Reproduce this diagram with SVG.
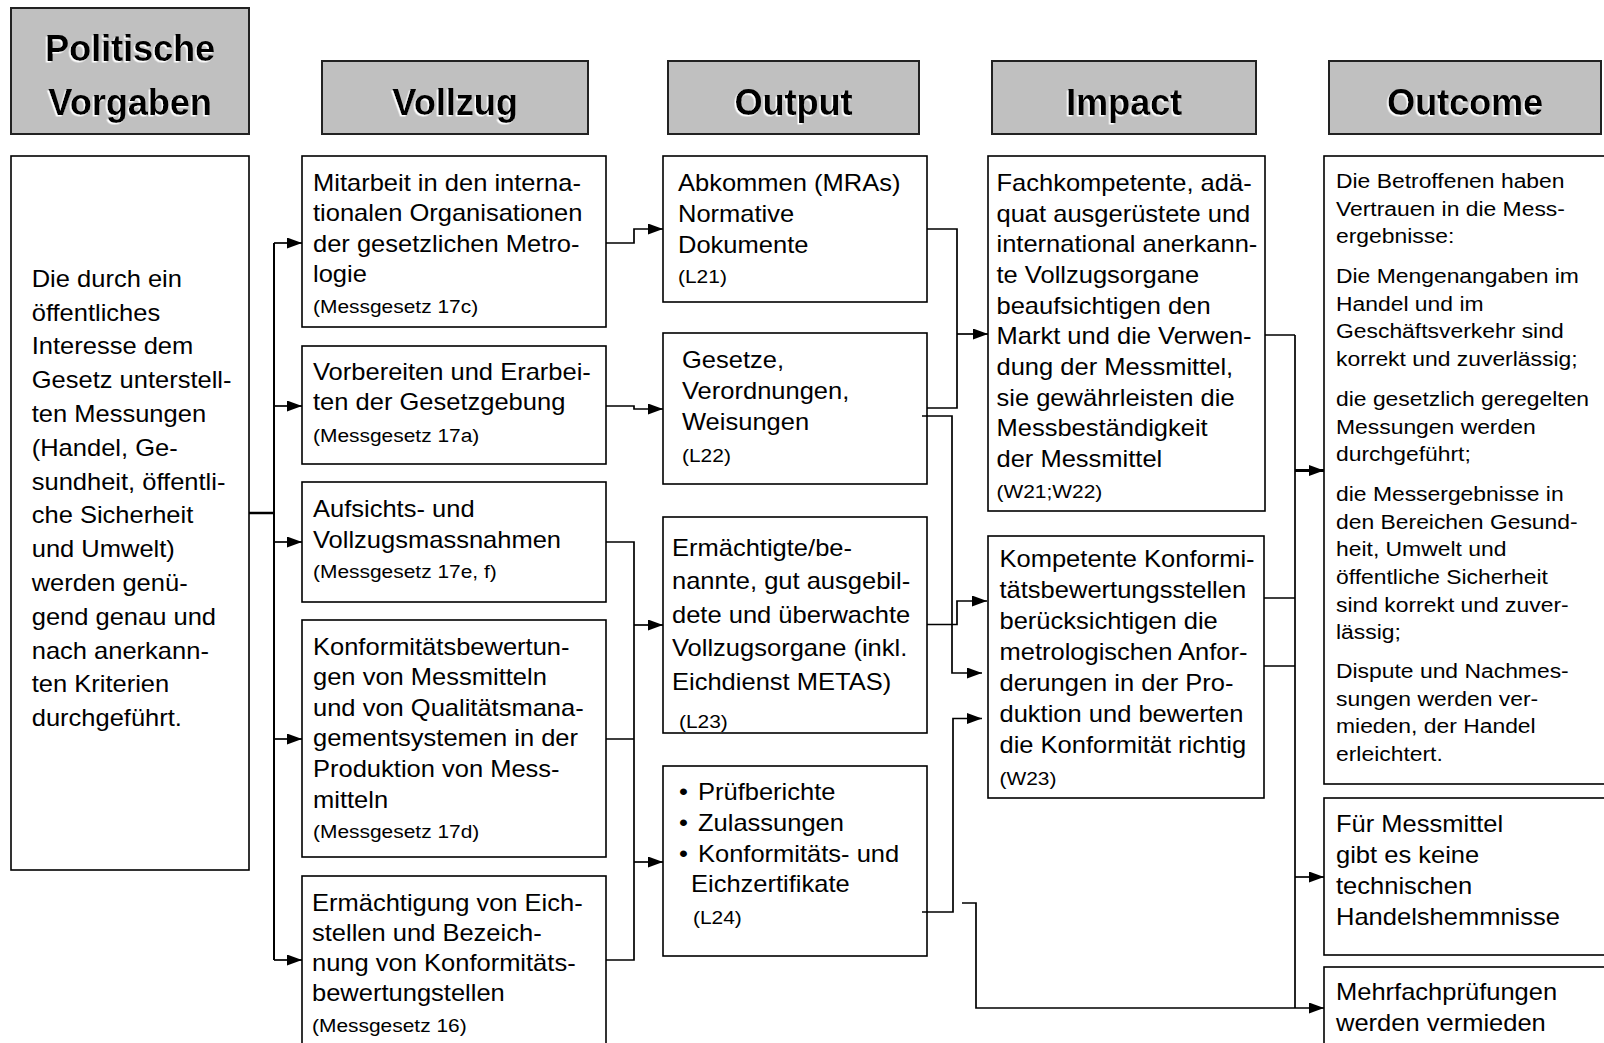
<svg xmlns="http://www.w3.org/2000/svg" width="1604" height="1043" viewBox="0 0 1604 1043">
<style>
.bx{fill:#fff;stroke:#000;stroke-width:1.6}
.hd{fill:#c0c0c0;stroke:#222;stroke-width:2}
.t{font-family:"Liberation Sans",Arial,sans-serif;font-size:23.4px;fill:#000}
.s{font-size:19.2px}
.o{font-size:21px}
.ht{font-family:"Liberation Sans",Arial,sans-serif;font-weight:bold;font-size:36px;text-anchor:middle;fill:#000;filter:url(#sh)}
.c{fill:none;stroke:#000;stroke-width:1.7}
.a{marker-end:url(#ah)}
</style>
<defs>
<filter id="sh" x="-10%" y="-10%" width="120%" height="130%"><feDropShadow dx="-1.5" dy="1.5" stdDeviation="0" flood-color="#fff" flood-opacity="1"/></filter>
<marker id="ah" markerUnits="userSpaceOnUse" markerWidth="15" markerHeight="11" refX="15" refY="5.5" orient="auto"><path d="M0,0 L15,5.5 L0,11 z" fill="#000"/></marker>
</defs>
<rect width="1604" height="1043" fill="#fff"/>

<g id="h-politische"><rect class="hd" x="11" y="8" width="238" height="126"/><text class="ht"><tspan x="130" y="61">Politische</tspan><tspan x="130" y="115">Vorgaben</tspan></text></g>
<g id="h-vollzug"><rect class="hd" x="322" y="61" width="266" height="73"/><text class="ht" x="455" y="115">Vollzug</text></g>
<g id="h-output"><rect class="hd" x="668" y="61" width="251" height="73"/><text class="ht" x="793.5" y="115">Output</text></g>
<g id="h-impact"><rect class="hd" x="992" y="61" width="264" height="73"/><text class="ht" x="1124" y="115">Impact</text></g>
<g id="h-outcome"><rect class="hd" x="1329" y="61" width="272" height="73"/><text class="ht" x="1465" y="115">Outcome</text></g>

<g id="n-vorgaben"><rect class="bx" x="11" y="156" width="238" height="714"/>
<text class="t" transform="matrix(1.09 0 0 1 31.7 0)"><tspan x="0" y="286.8">Die durch ein</tspan><tspan x="0" y="320.6">öffentliches</tspan><tspan x="0" y="354.4">Interesse dem</tspan><tspan x="0" y="388.2">Gesetz unterstell-</tspan><tspan x="0" y="422">ten Messungen</tspan><tspan x="0" y="455.8">(Handel, Ge-</tspan><tspan x="0" y="489.6">sundheit, öffentli-</tspan><tspan x="0" y="523.4">che Sicherheit</tspan><tspan x="0" y="557.2">und Umwelt)</tspan><tspan x="0" y="591">werden genü-</tspan><tspan x="0" y="624.8">gend genau und</tspan><tspan x="0" y="658.6">nach anerkann-</tspan><tspan x="0" y="692.4">ten Kriterien</tspan><tspan x="0" y="726.2">durchgeführt.</tspan></text></g>

<g id="n-v1"><rect class="bx" x="302" y="156" width="304" height="171"/>
<text class="t" transform="matrix(1.09 0 0 1 313 0)"><tspan x="0" y="191">Mitarbeit in den interna-</tspan><tspan x="0" y="221.5">tionalen Organisationen</tspan><tspan x="0" y="252">der gesetzlichen Metro-</tspan><tspan x="0" y="282.5">logie</tspan><tspan class="s" x="0" y="313">(Messgesetz 17c)</tspan></text></g>
<g id="n-v2"><rect class="bx" x="302" y="346" width="304" height="118"/>
<text class="t" transform="matrix(1.09 0 0 1 313 0)"><tspan x="0" y="380">Vorbereiten und Erarbei-</tspan><tspan x="0" y="410">ten der Gesetzgebung</tspan><tspan class="s" x="0" y="442">(Messgesetz 17a)</tspan></text></g>
<g id="n-v3"><rect class="bx" x="302" y="482" width="304" height="120"/>
<text class="t" transform="matrix(1.09 0 0 1 313 0)"><tspan x="0" y="517">Aufsichts- und</tspan><tspan x="0" y="548">Vollzugsmassnahmen</tspan><tspan class="s" x="0" y="578">(Messgesetz 17e, f)</tspan></text></g>
<g id="n-v4"><rect class="bx" x="302" y="620" width="304" height="237"/>
<text class="t" transform="matrix(1.09 0 0 1 313 0)"><tspan x="0" y="655">Konformitätsbewertun-</tspan><tspan x="0" y="685.5">gen von Messmitteln</tspan><tspan x="0" y="716">und von Qualitätsmana-</tspan><tspan x="0" y="746.5">gementsystemen in der</tspan><tspan x="0" y="777">Produktion von Mess-</tspan><tspan x="0" y="808">mitteln</tspan><tspan class="s" x="0" y="838">(Messgesetz 17d)</tspan></text></g>
<g id="n-v5"><rect class="bx" x="302" y="876" width="304" height="180"/>
<text class="t" transform="matrix(1.09 0 0 1 312 0)"><tspan x="0" y="911">Ermächtigung von Eich-</tspan><tspan x="0" y="941">stellen und Bezeich-</tspan><tspan x="0" y="971">nung von Konformitäts-</tspan><tspan x="0" y="1001">bewertungstellen</tspan><tspan class="s" x="0" y="1032">(Messgesetz 16)</tspan></text></g>

<g id="n-l21"><rect class="bx" x="663" y="156" width="264" height="146"/>
<text class="t" transform="matrix(1.09 0 0 1 678 0)"><tspan x="0" y="190.7">Abkommen (MRAs)</tspan><tspan x="0" y="221.7">Normative</tspan><tspan x="0" y="252.7">Dokumente</tspan><tspan class="s" x="0" y="283">(L21)</tspan></text></g>
<g id="n-l22"><rect class="bx" x="663" y="333" width="264" height="151"/>
<text class="t" transform="matrix(1.09 0 0 1 682 0)"><tspan x="0" y="368">Gesetze,</tspan><tspan x="0" y="399">Verordnungen,</tspan><tspan x="0" y="430">Weisungen</tspan><tspan class="s" x="0" y="462">(L22)</tspan></text></g>
<g id="n-l23"><rect class="bx" x="663" y="517" width="264" height="216"/>
<text class="t" transform="matrix(1.09 0 0 1 672 0)"><tspan x="0" y="556">Ermächtigte/be-</tspan><tspan x="0" y="589.5">nannte, gut ausgebil-</tspan><tspan x="0" y="623">dete und überwachte</tspan><tspan x="0" y="656.5">Vollzugsorgane (inkl.</tspan><tspan x="0" y="690">Eichdienst METAS)</tspan><tspan class="s" x="6.4" y="728">(L23)</tspan></text></g>
<g id="n-l24"><rect class="bx" x="663" y="766" width="264" height="190"/>
<text class="t" transform="matrix(1.09 0 0 1 679 0)"><tspan x="0" y="800.5">•</tspan><tspan x="17.4" y="800.5">Prüfberichte</tspan><tspan x="0" y="831.5">•</tspan><tspan x="17.4" y="831.5">Zulassungen</tspan><tspan x="0" y="862">•</tspan><tspan x="17.4" y="862">Konformitäts- und</tspan><tspan x="11" y="892.5">Eichzertifikate</tspan><tspan class="s" x="12.8" y="924">(L24)</tspan></text></g>

<g id="n-i1"><rect class="bx" x="988" y="156" width="277" height="355"/>
<text class="t" transform="matrix(1.09 0 0 1 996.5 0)"><tspan x="0" y="191">Fachkompetente, adä-</tspan><tspan x="0" y="221.7">quat ausgerüstete und</tspan><tspan x="0" y="252.3">international anerkann-</tspan><tspan x="0" y="283">te Vollzugsorgane</tspan><tspan x="0" y="313.7">beaufsichtigen den</tspan><tspan x="0" y="344.3">Markt und die Verwen-</tspan><tspan x="0" y="375">dung der Messmittel,</tspan><tspan x="0" y="405.7">sie gewährleisten die</tspan><tspan x="0" y="436.3">Messbeständigkeit</tspan><tspan x="0" y="467">der Messmittel</tspan><tspan class="s" x="0" y="498.5">(W21;W22)</tspan></text></g>
<g id="n-i2"><rect class="bx" x="988" y="536" width="276" height="262"/>
<text class="t" transform="matrix(1.09 0 0 1 999.5 0)"><tspan x="0" y="567">Kompetente Konformi-</tspan><tspan x="0" y="598">tätsbewertungsstellen</tspan><tspan x="0" y="629">berücksichtigen die</tspan><tspan x="0" y="660">metrologischen Anfor-</tspan><tspan x="0" y="691">derungen in der Pro-</tspan><tspan x="0" y="722">duktion und bewerten</tspan><tspan x="0" y="753">die Konformität richtig</tspan><tspan class="s" x="0" y="785">(W23)</tspan></text></g>

<g id="n-o1"><rect class="bx" x="1324" y="156" width="290" height="628"/>
<text class="t o" transform="matrix(1.09 0 0 1 1336 0)"><tspan x="0" y="188">Die Betroffenen haben</tspan><tspan x="0" y="215.7">Vertrauen in die Mess-</tspan><tspan x="0" y="243.3">ergebnisse:</tspan><tspan x="0" y="283.2">Die Mengenangaben im</tspan><tspan x="0" y="310.8">Handel und im</tspan><tspan x="0" y="338.5">Geschäftsverkehr sind</tspan><tspan x="0" y="366">korrekt und zuverlässig;</tspan><tspan x="0" y="406">die gesetzlich geregelten</tspan><tspan x="0" y="433.6">Messungen werden</tspan><tspan x="0" y="461">durchgeführt;</tspan><tspan x="0" y="501">die Messergebnisse in</tspan><tspan x="0" y="528.7">den Bereichen Gesund-</tspan><tspan x="0" y="556">heit, Umwelt und</tspan><tspan x="0" y="584">öffentliche Sicherheit</tspan><tspan x="0" y="611.6">sind korrekt und zuver-</tspan><tspan x="0" y="639">lässig;</tspan><tspan x="0" y="678">Dispute und Nachmes-</tspan><tspan x="0" y="705.7">sungen werden ver-</tspan><tspan x="0" y="733">mieden, der Handel</tspan><tspan x="0" y="761">erleichtert.</tspan></text></g>
<g id="n-o2"><rect class="bx" x="1324" y="798" width="290" height="157"/>
<text class="t" transform="matrix(1.09 0 0 1 1336 0)"><tspan x="0" y="832.5">Für Messmittel</tspan><tspan x="0" y="863">gibt es keine</tspan><tspan x="0" y="894">technischen</tspan><tspan x="0" y="924.6">Handelshemmnisse</tspan></text></g>
<g id="n-o3"><rect class="bx" x="1324" y="967" width="290" height="90"/>
<text class="t" transform="matrix(1.09 0 0 1 1336 0)"><tspan x="0" y="1000">Mehrfachprüfungen</tspan><tspan x="0" y="1031">werden vermieden</tspan></text></g>

<g id="connectors">
<path class="c" style="stroke-width:2.5" d="M249,513 H274"/>
<path class="c" style="stroke-width:2" d="M274,243 V960"/>
<path class="c a" d="M274,243 H302"/>
<path class="c a" d="M274,406 H302"/>
<path class="c a" d="M274,542 H302"/>
<path class="c a" d="M274,739 H302"/>
<path class="c a" d="M274,960 H302"/>
<path class="c a" d="M606,243 H634 V229 H663"/>
<path class="c a" d="M606,406 H634 V409 H663"/>
<path class="c" d="M606,542 H634 V960 H606 M606,739 H634"/>
<path class="c a" d="M634,625 H663"/>
<path class="c a" d="M634,862 H663"/>
<path class="c" d="M927,229 H957 V408 H927"/>
<path class="c a" d="M957,334 H988"/>
<path class="c a" d="M922,416 H952 V673 H982"/>
<path class="c a" d="M927,624.5 H957 V601 H987"/>
<path class="c a" d="M922,912 H953 V718.5 H982"/>
<path class="c a" d="M962,903 H976 V1008 H1324"/>
<path class="c" d="M1265,335 H1295 M1264,598 H1295 M1264,666 H1295 M1295,335 V1008"/>
<path class="c a" style="stroke-width:3" d="M1295,470.5 H1324"/>
<path class="c a" d="M1295,877 H1324"/>
</g>
</svg>
